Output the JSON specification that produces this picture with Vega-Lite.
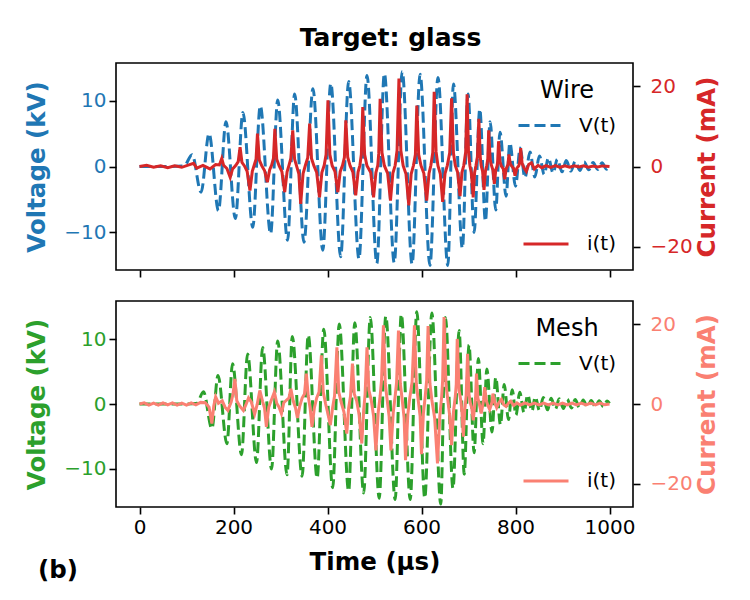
{
"$schema": "https://vega.github.io/schema/vega-lite/v6.json",
"background": "white",
"padding": {"left": 23, "top": 25, "right": 5, "bottom": 5},
"spacing": 21,
"config": {
  "font": "DejaVu Sans",
  "view": {"stroke": "black", "strokeWidth": 1.6},
  "axis": {"grid": false, "domain": false, "tickColor": "black", "tickWidth": 1.6, "tickSize": 7, "labelFontSize": 20, "titleFontSize": 24.5, "titleFontWeight": "bold", "labelPadding": 3, "titlePadding": 14},
  "legend": {"padding": 0, "labelFontSize": 20, "labelColor": "black", "labelOffset": 17, "symbolType": "stroke", "symbolStrokeWidth": 3, "titleFontSize": 24, "titleFontWeight": "normal", "titleColor": "black", "titleAnchor": "middle", "titlePadding": 0, "offset": 16}
},
"datasets": {
"wireV": [
{"t":0,"v":0},{"t":60,"v":0},{"t":95,"v":0.1},{"t":112,"v":1.8},{"t":131,"v":-3.9},{"t":148,"v":5.0},{"t":168,"v":-6.7},{"t":184,"v":6.8},{"t":204,"v":-7.9},{"t":220,"v":8.2},{"t":241,"v":-9.2},{"t":257,"v":9.2},{"t":279,"v":-10.2},{"t":294,"v":10.1},{"t":315,"v":-11.2},{"t":330,"v":11.0},{"t":350,"v":-11.5},{"t":369,"v":11.8},{"t":390,"v":-12.7},{"t":407,"v":12.6},{"t":428,"v":-13.7},{"t":445,"v":12.9},{"t":467,"v":-14.0},{"t":484,"v":13.8},{"t":505,"v":-14.7},{"t":521,"v":14.1},{"t":542,"v":-14.6},{"t":559,"v":14.4},{"t":580,"v":-14.8},{"t":597,"v":14.0},{"t":618,"v":-15.0},{"t":635,"v":13.5},{"t":656,"v":-15.0},{"t":668,"v":12.5},{"t":687,"v":-12.4},{"t":699,"v":11.0},{"t":712,"v":-10.0},{"t":724,"v":8.7},{"t":736,"v":-8.3},{"t":746,"v":6.8},{"t":758,"v":-6.6},{"t":767,"v":5.2},{"t":780,"v":-4.5},{"t":788,"v":3.6},{"t":800,"v":-3.0},{"t":810,"v":2.8},{"t":820,"v":-1.7},{"t":831,"v":2.2},{"t":841,"v":-1.6},{"t":851,"v":1.6},{"t":861,"v":-1.2},{"t":870,"v":1.3},{"t":880,"v":-1.0},{"t":889,"v":1.1},{"t":899,"v":-0.8},{"t":908,"v":0.9},{"t":918,"v":-0.7},{"t":927,"v":0.8},{"t":937,"v":-0.6},{"t":946,"v":0.7},{"t":956,"v":-0.5},{"t":965,"v":0.6},{"t":975,"v":-0.45},{"t":984,"v":0.55},{"t":994,"v":-0.4},{"t":1000,"v":0.3}
],
"wireI": [
{"t":0,"i":0},{"t":15,"i":0.3},{"t":30,"i":-0.2},{"t":45,"i":0.2},{"t":60,"i":-0.3},{"t":75,"i":0.2},{"t":90,"i":-0.2},{"t":105,"i":0.4},{"t":115,"i":0.8},{"t":122,"i":-0.4},{"t":135,"i":0.3},{"t":150,"i":-0.6},{"t":162,"i":0.5},{"t":170,"i":0.4},{"t":175,"i":2.0},{"t":179,"i":0.3},{"t":186,"i":-0.5},{"t":193,"i":-2.7},{"t":198,"i":-0.6},{"t":205,"i":0.3},{"t":210,"i":1.2},
{"t":214,"i":4.8},{"t":218,"i":1.0},{"t":223,"i":0.2},{"t":229,"i":-1.2},{"t":235,"i":-6.0},{"t":240,"i":-1.2},{"t":244,"i":0.3},{"t":248,"i":1.8},
{"t":251,"i":8.2},{"t":255,"i":1.6},{"t":260,"i":0.2},{"t":266,"i":-1.0},{"t":272,"i":-3.9},{"t":277,"i":-0.8},{"t":281,"i":0.3},{"t":285,"i":2.0},
{"t":288,"i":9.4},{"t":292,"i":1.8},{"t":297,"i":0.2},{"t":303,"i":-1.3},{"t":309,"i":-6.4},{"t":314,"i":-1.3},{"t":318,"i":0.3},{"t":322,"i":2.0},
{"t":326,"i":9.0},{"t":330,"i":1.8},{"t":334,"i":0.2},{"t":339,"i":-1.8},{"t":343,"i":-9.3},{"t":348,"i":-1.8},{"t":353,"i":0.3},{"t":358,"i":2.2},
{"t":362,"i":10.7},{"t":366,"i":2.0},{"t":371,"i":0.2},{"t":377,"i":-1.5},{"t":383,"i":-7.7},{"t":388,"i":-1.5},{"t":393,"i":0.3},{"t":397,"i":3.0},
{"t":401,"i":16.5},{"t":405,"i":3.0},{"t":410,"i":0.2},{"t":416,"i":-1.3},{"t":422,"i":-6.4},{"t":427,"i":-1.3},{"t":432,"i":0.3},{"t":436,"i":2.3},
{"t":439,"i":11.5},{"t":443,"i":2.3},{"t":448,"i":0.2},{"t":454,"i":-1.4},{"t":460,"i":-7.2},{"t":465,"i":-1.4},{"t":469,"i":0.3},{"t":472,"i":3.0},
{"t":475,"i":14.8},{"t":479,"i":3.0},{"t":484,"i":0.2},{"t":492,"i":-1.5},{"t":498,"i":-7.7},{"t":503,"i":-1.5},{"t":507,"i":0.3},{"t":509,"i":3.2},
{"t":512,"i":16.9},{"t":516,"i":3.4},{"t":521,"i":0.2},{"t":528,"i":-1.7},{"t":534,"i":-8.5},{"t":539,"i":-1.7},{"t":544,"i":0.3},{"t":548,"i":4.0},
{"t":552,"i":21.9},{"t":556,"i":4.0},{"t":561,"i":0.2},{"t":567,"i":-1.9},{"t":573,"i":-9.7},{"t":578,"i":-1.9},{"t":583,"i":0.3},{"t":587,"i":3.0},
{"t":590,"i":15.2},{"t":594,"i":3.0},{"t":599,"i":0.2},{"t":605,"i":-1.7},{"t":611,"i":-8.5},{"t":616,"i":-1.7},{"t":620,"i":0.3},{"t":624,"i":3.5},
{"t":627,"i":18.6},{"t":631,"i":3.7},{"t":635,"i":0.2},{"t":640,"i":-1.8},{"t":645,"i":-8.8},{"t":650,"i":-1.8},{"t":655,"i":0.3},{"t":660,"i":3.4},
{"t":664,"i":17.0},{"t":668,"i":3.4},{"t":672,"i":0.2},{"t":677,"i":-1.5},{"t":682,"i":-7.4},{"t":686,"i":-1.5},{"t":690,"i":0.3},{"t":694,"i":3.6},
{"t":697,"i":18.0},{"t":700,"i":3.6},{"t":703,"i":0.2},{"t":706,"i":-1.5},{"t":710,"i":-7.7},{"t":713,"i":-1.5},{"t":716,"i":0.3},{"t":719,"i":2.4},
{"t":722,"i":11.9},{"t":725,"i":2.4},{"t":727,"i":0.2},{"t":730,"i":-1.2},{"t":733,"i":-5.8},{"t":736,"i":-1.2},{"t":739,"i":0.3},{"t":741,"i":1.8},
{"t":743,"i":9.0},{"t":746,"i":1.8},{"t":749,"i":0.2},{"t":752,"i":-0.9},{"t":755,"i":-4.3},{"t":758,"i":-0.9},{"t":761,"i":0.2},{"t":762,"i":1.3},
{"t":764,"i":6.3},{"t":767,"i":1.2},{"t":770,"i":0.1},{"t":774,"i":-0.6},{"t":777,"i":-3.2},{"t":780,"i":-0.6},{"t":783,"i":0.2},{"t":784,"i":0.6},
{"t":786,"i":3.0},{"t":789,"i":0.6},{"t":792,"i":0.1},{"t":796,"i":-0.5},{"t":799,"i":-2.3},{"t":803,"i":-0.4},{"t":807,"i":0.2},{"t":809,"i":1.0},
{"t":811,"i":4.6},{"t":814,"i":0.8},{"t":818,"i":-0.3},{"t":823,"i":-1.2},{"t":828,"i":0.5},{"t":834,"i":0.9},{"t":840,"i":-0.6},{"t":848,"i":0.3},{"t":856,"i":-0.3},{"t":865,"i":0.2},{"t":875,"i":-0.2},{"t":885,"i":0.2},{"t":895,"i":-0.2},{"t":905,"i":0.15},{"t":915,"i":-0.15},{"t":925,"i":0.2},{"t":935,"i":-0.1},{"t":945,"i":0.15},{"t":955,"i":-0.15},{"t":965,"i":0.1},{"t":975,"i":-0.1},{"t":985,"i":0.15},{"t":1000,"i":0}
],
"meshV": [
{"t":0,"v":0},{"t":100,"v":0},{"t":122,"v":0.1},{"t":136,"v":1.9},{"t":154,"v":-3.8},{"t":167,"v":4.4},{"t":186,"v":-6.1},{"t":198,"v":6.2},{"t":217,"v":-7.8},{"t":230,"v":7.7},{"t":249,"v":-9.0},{"t":262,"v":8.7},{"t":281,"v":-10.0},{"t":294,"v":9.7},{"t":314,"v":-10.9},{"t":325,"v":10.4},{"t":346,"v":-11.1},{"t":359,"v":10.6},{"t":378,"v":-11.4},{"t":392,"v":11.5},{"t":411,"v":-12.9},{"t":425,"v":12.3},{"t":445,"v":-13.4},{"t":458,"v":12.5},{"t":477,"v":-13.7},{"t":491,"v":13.3},{"t":510,"v":-14.5},{"t":524,"v":13.5},{"t":544,"v":-14.7},{"t":557,"v":13.8},{"t":576,"v":-14.7},{"t":590,"v":14.2},{"t":607,"v":-14.5},{"t":622,"v":14.0},{"t":641,"v":-15.4},{"t":651,"v":13.3},{"t":667,"v":-13.0},{"t":680,"v":11.3},{"t":691,"v":-10.8},{"t":701,"v":9.1},{"t":712,"v":-7.5},{"t":721,"v":7.0},{"t":731,"v":-6.1},{"t":739,"v":5.4},{"t":750,"v":-4.3},{"t":758,"v":4.1},{"t":768,"v":-3.2},{"t":776,"v":3.0},{"t":785,"v":-2.4},{"t":793,"v":2.2},{"t":801,"v":-1.7},{"t":809,"v":1.8},{"t":818,"v":-1.3},{"t":826,"v":1.4},{"t":835,"v":-1.1},{"t":842,"v":1.1},{"t":851,"v":-1.0},{"t":859,"v":1.0},{"t":868,"v":-0.9},{"t":876,"v":0.9},{"t":885,"v":-0.8},{"t":893,"v":0.8},{"t":902,"v":-0.7},{"t":910,"v":0.75},{"t":919,"v":-0.6},{"t":927,"v":0.7},{"t":936,"v":-0.55},{"t":944,"v":0.6},{"t":953,"v":-0.5},{"t":961,"v":0.55},{"t":970,"v":-0.45},{"t":978,"v":0.5},{"t":987,"v":-0.4},{"t":995,"v":0.45},{"t":1000,"v":0.1}
],
"meshI": [
{"t":0,"i":0},{"t":10,"i":0.3},{"t":20,"i":-0.3},{"t":30,"i":0.2},{"t":40,"i":-0.3},{"t":50,"i":0.3},{"t":60,"i":-0.2},{"t":70,"i":0.3},{"t":80,"i":-0.3},{"t":90,"i":0.2},{"t":100,"i":-0.3},{"t":110,"i":0.3},{"t":120,"i":-0.2},{"t":130,"i":0.4},{"t":140,"i":0.3},{"t":148,"i":-0.8},{"t":154,"i":-4.9},{"t":158,"i":-0.5},{"t":162,"i":1.8},{"t":168,"i":0.2},{"t":176,"i":0.8},{"t":182,"i":-0.8},{"t":188,"i":-1.6},{"t":195,"i":0.5},{"t":199,"i":2.5},{"t":203,"i":6.3},{"t":207,"i":0.8},{"t":213,"i":-0.5},{"t":221,"i":-1.6},{"t":226,"i":-0.3},{"t":232,"i":1.5},{"t":238,"i":0.5},{"t":245,"i":-2.5},{"t":250,"i":-0.3},{"t":256,"i":3.4},{"t":262,"i":0.6},{"t":266,"i":-1.0},{"t":270,"i":-5.7},{"t":275,"i":-0.8},{"t":280,"i":0.8},{"t":287,"i":3.0},{"t":292,"i":0.2},{"t":297,"i":-0.8},{"t":302,"i":-2.4},{"t":307,"i":0.3},{"t":313,"i":1.0},{"t":318,"i":1.5},{"t":322,"i":3.8},{"t":327,"i":0.8},{"t":332,"i":-1.0},{"t":336,"i":-3.5},{"t":341,"i":-0.5},{"t":346,"i":1.5},{"t":351,"i":2.5},{"t":355,"i":7.6},{"t":359,"i":2.0},{"t":363,"i":-1.0},{"t":367,"i":-5.7},{"t":372,"i":-1.0},{"t":377,"i":1.5},{"t":382,"i":3.0},{"t":387,"i":12.2},{"t":391,"i":3.0},{"t":396,"i":0.0},{"t":401,"i":-2.5},{"t":406,"i":-5.3},{"t":411,"i":-0.8},{"t":415,"i":2.0},{"t":420,"i":14.2},{"t":424,"i":3.0},{"t":429,"i":0.5},{"t":435,"i":-2.0},{"t":441,"i":-7.4},{"t":445,"i":-1.0},{"t":449,"i":2.0},{"t":453,"i":10.1},{"t":457,"i":2.5},{"t":462,"i":0.8},{"t":467,"i":-2.5},{"t":473,"i":-9.9},{"t":477,"i":-1.5},{"t":480,"i":2.5},{"t":484,"i":14.2},{"t":488,"i":3.5},{"t":493,"i":1.0},{"t":498,"i":-3.0},{"t":503,"i":-11.6},{"t":508,"i":-2.0},{"t":512,"i":2.0},{"t":515,"i":6.0},{"t":519,"i":19.7},{"t":523,"i":5.0},{"t":527,"i":1.0},{"t":531,"i":-3.0},{"t":535,"i":-11.6},{"t":540,"i":-2.0},{"t":544,"i":2.0},{"t":547,"i":5.5},{"t":551,"i":18.4},{"t":555,"i":5.0},{"t":559,"i":1.0},{"t":563,"i":-3.5},{"t":566,"i":-14.1},{"t":571,"i":-2.5},{"t":575,"i":1.5},{"t":580,"i":5.5},{"t":585,"i":19.7},{"t":589,"i":5.0},{"t":593,"i":1.0},{"t":597,"i":-3.0},{"t":600,"i":-12.6},{"t":604,"i":-2.5},{"t":608,"i":2.0},{"t":611,"i":6.0},{"t":614,"i":19.5},{"t":618,"i":5.0},{"t":622,"i":1.0},{"t":628,"i":-3.5},{"t":634,"i":-14.9},{"t":639,"i":-3.0},{"t":643,"i":2.0},{"t":645,"i":6.0},{"t":648,"i":21.8},{"t":652,"i":5.0},{"t":656,"i":1.0},{"t":660,"i":-3.0},{"t":664,"i":-10.3},{"t":668,"i":-2.0},{"t":672,"i":2.0},{"t":674,"i":5.0},{"t":676,"i":16.3},{"t":680,"i":3.5},{"t":684,"i":0.5},{"t":686,"i":-2.0},{"t":689,"i":-8.2},{"t":692,"i":-1.5},{"t":695,"i":2.0},{"t":698,"i":12.6},{"t":701,"i":2.5},{"t":704,"i":0.2},{"t":707,"i":-1.0},{"t":710,"i":-4.1},{"t":713,"i":-0.8},{"t":715,"i":1.5},{"t":717,"i":7.6},{"t":720,"i":1.5},{"t":723,"i":0.0},{"t":727,"i":-2.4},{"t":730,"i":-0.5},{"t":732,"i":1.0},{"t":734.5,"i":4.2},{"t":738,"i":0.8},{"t":741,"i":-0.3},{"t":745,"i":-1.4},{"t":748,"i":-0.3},{"t":750,"i":0.5},{"t":752,"i":2.6},{"t":756,"i":0.3},{"t":760,"i":-0.9},{"t":764,"i":0.2},{"t":770,"i":1.2},{"t":775,"i":-0.2},{"t":780,"i":-0.6},{"t":785,"i":0.2},{"t":790,"i":0.7},{"t":796,"i":-0.4},{"t":803,"i":0.3},{"t":810,"i":-0.3},{"t":820,"i":0.3},{"t":830,"i":-0.2},{"t":840,"i":0.25},{"t":850,"i":-0.2},{"t":860,"i":0.2},{"t":870,"i":-0.25},{"t":880,"i":0.2},{"t":890,"i":-0.2},{"t":900,"i":0.25},{"t":910,"i":-0.2},{"t":920,"i":0.2},{"t":930,"i":-0.25},{"t":940,"i":0.2},{"t":950,"i":-0.2},{"t":960,"i":0.25},{"t":970,"i":-0.2},{"t":980,"i":0.2},{"t":990,"i":-0.2},{"t":1000,"i":0}
]
},
"vconcat": [
{
  "width": 517, "height": 207,
  "title": {"text": "Target: glass", "fontSize": 25, "fontWeight": "bold", "anchor": "middle", "frame": "group", "dx": 16, "offset": 12, "color": "black"},
  "layer": [
    {"data": {"name": "wireV"},
     "mark": {"type": "line", "interpolate": "monotone", "strokeWidth": 3, "strokeDash": [11, 5], "clip": true},
     "encoding": {
       "x": {"field": "t", "type": "quantitative", "scale": {"domain": [-50, 1050], "nice": false, "zero": false}, "axis": {"values": [0, 200, 400, 600, 800, 1000], "labels": false, "title": null}},
       "y": {"field": "v", "type": "quantitative", "scale": {"domain": [-15.7, 15.7], "nice": false}, "axis": {"values": [-10, 0, 10], "title": "Voltage (kV)", "titleColor": "#1f77b4", "labelColor": "#1f77b4"}},
       "color": {"datum": "V(t)", "type": "nominal", "scale": {"range": ["#1f77b4"]}, "legend": {"title": "Wire", "orient": "top-right", "symbolSize": 1764, "symbolDash": [11, 5]}}
     }},
    {"data": {"name": "wireI"},
     "mark": {"type": "line", "strokeWidth": 3, "clip": true},
     "encoding": {
       "x": {"field": "t", "type": "quantitative"},
       "y": {"field": "i", "type": "quantitative", "scale": {"domain": [-25.8, 25.8], "nice": false}, "axis": {"orient": "right", "values": [-20, 0, 20], "title": "Current (mA)", "titleColor": "#d62728", "labelColor": "#d62728", "titleAngle": 270, "titleBaseline": "top", "titlePadding": 3, "labelPadding": 10}},
       "color": {"datum": "i(t)", "type": "nominal", "scale": {"range": ["#d62728"]}, "legend": {"title": null, "orient": "bottom-right", "symbolSize": 2025}}
     }}
  ],
  "resolve": {"scale": {"y": "independent", "color": "independent"}, "legend": {"color": "independent"}}
},
{
  "width": 517, "height": 206,
  "title": {"text": "(b)", "orient": "bottom", "anchor": "start", "frame": "group", "dx": -78, "offset": -15, "fontSize": 24.5, "fontWeight": "bold", "color": "black"},
  "layer": [
    {"data": {"name": "meshV"},
     "mark": {"type": "line", "interpolate": "monotone", "strokeWidth": 3, "strokeDash": [11, 5], "clip": true},
     "encoding": {
       "x": {"field": "t", "type": "quantitative", "scale": {"domain": [-50, 1050], "nice": false, "zero": false}, "axis": {"values": [0, 200, 400, 600, 800, 1000], "format": "d", "title": "Time (µs)", "titleColor": "black", "titlePadding": 13}},
       "y": {"field": "v", "type": "quantitative", "scale": {"domain": [-15.85, 15.85], "nice": false}, "axis": {"values": [-10, 0, 10], "title": "Voltage (kV)", "titleColor": "#2ca02c", "labelColor": "#2ca02c"}},
       "color": {"datum": "V(t)", "type": "nominal", "scale": {"range": ["#2ca02c"]}, "legend": {"title": "Mesh", "orient": "top-right", "symbolSize": 1764, "symbolDash": [11, 5]}}
     }},
    {"data": {"name": "meshI"},
     "mark": {"type": "line", "strokeWidth": 3, "clip": true},
     "encoding": {
       "x": {"field": "t", "type": "quantitative"},
       "y": {"field": "i", "type": "quantitative", "scale": {"domain": [-25.8, 25.8], "nice": false}, "axis": {"orient": "right", "values": [-20, 0, 20], "title": "Current (mA)", "titleColor": "#fa8072", "labelColor": "#fa8072", "titleAngle": 270, "titleBaseline": "top", "titlePadding": 3, "labelPadding": 10}},
       "color": {"datum": "i(t)", "type": "nominal", "scale": {"range": ["#fa8072"]}, "legend": {"title": null, "orient": "bottom-right", "symbolSize": 2025}}
     }}
  ],
  "resolve": {"scale": {"y": "independent", "color": "independent"}, "legend": {"color": "independent"}}
}
]
}
